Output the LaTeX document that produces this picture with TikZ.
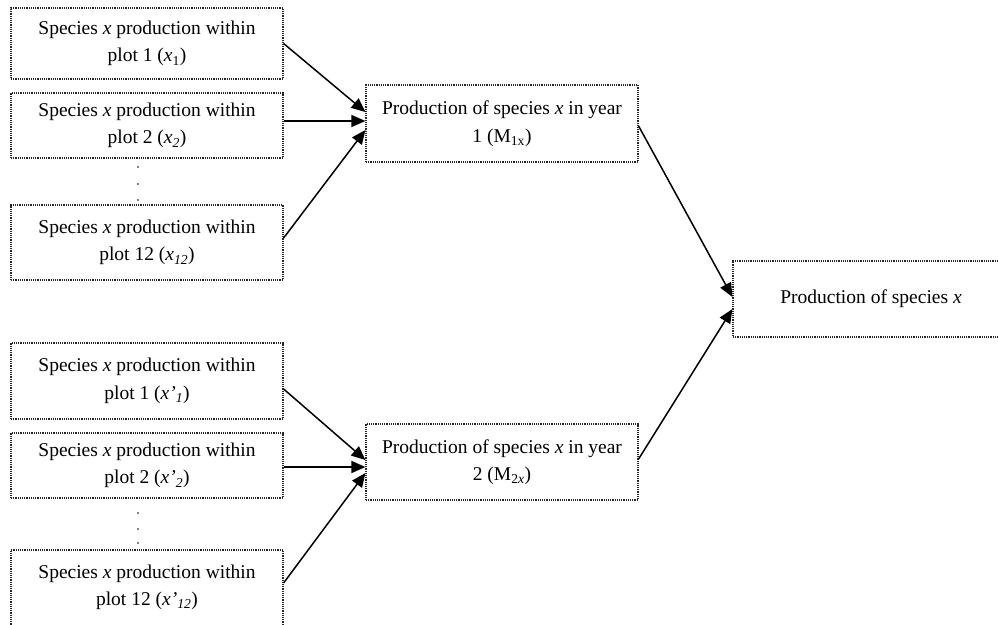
\documentclass[tikz,border=0pt]{standalone}
\usepackage{fontspec}
\setmainfont{Liberation Serif}
\usetikzlibrary{arrows.meta}
\begin{document}
\begin{tikzpicture}[x=1pt,y=-1pt,
  box/.style={draw=black!85, line width=1.2pt, dash pattern=on 1.2pt off 1pt,
    minimum width=272pt, align=center, inner sep=0pt,
    font=\fontsize{19.5}{27.5}\selectfont},
  conn/.style={line width=1.5pt, -{Triangle[length=14pt,width=12pt]}},
  dot/.style={circle, fill=black, inner sep=0pt, minimum size=1.6pt}]
\clip (0,0) rectangle (998,624);
\useasboundingbox (0,0) rectangle (998,624);

% left column, year 1
\node[box, minimum height=71pt] (b1) at (147,43.5) {Species \textit{x} production within\\plot 1 (\textit{x}\textsubscript{1})};
\node[box, minimum height=65pt] (b2) at (147,125.5) {Species \textit{x} production within\\plot 2 (\textit{x}\textsubscript{\textit{2}})};
\node[box, minimum height=75pt] (b3) at (147,242.5) {Species \textit{x} production within\\plot 12 (\textit{x}\textsubscript{\textit{12}})};
\node[dot] (d1) at (138,167) {};
\node[dot] (d2) at (138,184) {};
\node[dot] (d3) at (138,200) {};

% left column, year 2
\node[box, minimum height=76pt] (c1) at (147,381) {Species \textit{x} production within\\plot 1 (\textit{x’}\textsubscript{\textit{1}})};
\node[box, minimum height=65pt] (c2) at (147,465.5) {Species \textit{x} production within\\plot 2 (\textit{x’}\textsubscript{\textit{2}})};
\node[box, minimum height=80pt, text depth=10pt] (c3) at (147,590) {Species \textit{x} production within\\plot 12 (\textit{x’}\textsubscript{\textit{12}})};
\node[dot] (e1) at (138,513) {};
\node[dot] (e2) at (138,529) {};
\node[dot] (e3) at (138,543) {};

% middle
\node[box, minimum height=77pt] (m1) at (502,123.5) {Production of species \textit{x} in year\\1 (M\textsubscript{1x})};
\node[box, minimum height=76pt] (m2) at (502,462) {Production of species \textit{x} in year\\2 (M\textsubscript{2\textit{x}})};

% right
\node[box, minimum width=276pt, minimum height=76pt] (r) at (871,299) {Production of species \textit{x}};

% connectors
\draw[conn] (b1.east) -- ([yshift=11.5pt]m1.west);
\draw[conn] ([yshift=4.5pt]b2.east) -- ([yshift=2.5pt]m1.west);
\draw[conn] ([yshift=4.5pt]b3.east) -- ([yshift=-6.5pt]m1.west);

\draw[conn] ([yshift=-8pt]c1.east) -- ([yshift=2pt]m2.west);
\draw[conn] ([yshift=-1.5pt]c2.east) -- ([yshift=-5pt]m2.west);
\draw[conn] ([yshift=7pt]c3.east) -- ([yshift=-11pt]m2.west);

\draw[conn] ([yshift=-2.5pt]m1.east) -- ([yshift=2pt]r.west);
\draw[conn] ([yshift=3pt]m2.east) -- ([yshift=-10pt]r.west);
\end{tikzpicture}
\end{document}
